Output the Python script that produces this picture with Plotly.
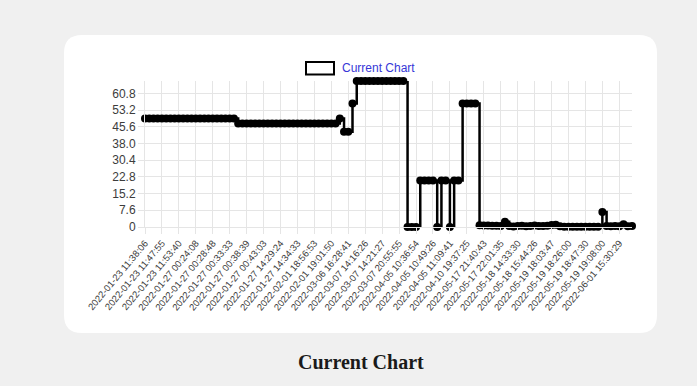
import plotly.graph_objects as go

# ---- data ----
series_name = "Current Chart"

tick_labels = [
    "2022-01-23 11:38:06", "2022-01-23 11:47:55", "2022-01-23 11:53:40",
    "2022-01-27 00:24:08", "2022-01-27 00:28:48", "2022-01-27 00:33:33",
    "2022-01-27 00:38:39", "2022-01-27 00:43:03", "2022-01-27 14:29:24",
    "2022-01-27 14:34:33", "2022-02-01 18:56:53", "2022-02-01 19:01:50",
    "2022-03-06 16:28:41", "2022-03-07 14:16:26", "2022-03-07 14:21:27",
    "2022-03-07 20:55:55", "2022-04-05 10:36:54", "2022-04-05 10:49:26",
    "2022-04-05 11:09:41", "2022-04-10 19:37:25", "2022-05-17 21:40:43",
    "2022-05-17 22:01:35", "2022-05-18 14:33:30", "2022-05-18 15:44:26",
    "2022-05-19 18:03:47", "2022-05-19 18:26:00", "2022-05-19 18:47:30",
    "2022-05-19 19:08:00", "2022-06-01 15:30:29",
]
label_every = 4  # one visible label per this many points

values_early = [49.4] * 22 + [47.1] * 24 + [49.4, 43.3, 43.3, 56.2]
values_peak = [66.4] * 12
values_mid = [0, 0, 0, 21.1, 21.1, 21.1, 21.1, 0, 21.1, 21.1, 0, 21.1, 21.1,
              56.2, 56.2, 56.2, 56.2]
values_late = [0.8, 0.7, 0.7, 0.6, 0.6, 0.5, 2.4, 0.4, 0.2, 0.5, 0.6, 0.3,
               0.5, 0.7, 0.4, 0.5, 0.6, 0.9, 1.0, 0.3, 0.1, 0.1, 0.1, 0.1,
               0.1, 0.1, 0.1, 0.1, 0.1, 6.8, 0.4, 0.3, 0.4, 0.3, 1.2, 0.3, 0.4]
values = values_early + values_peak + values_mid + values_late

y_ticks = [0, 7.6, 15.2, 22.8, 30.4, 38.0, 45.6, 53.2, 60.8]
y_tick_text = ["0", "7.6", "15.2", "22.8", "30.4", "38.0", "45.6", "53.2", "60.8"]
y_max = 66.4

# ---- layout geometry (figure pixel coords; page has 8px body margin) ----
W, H = 697, 386
OFF = 8
L, R, T, B = 137, 73, 73, 167
PW, PH = W - L - R, H - T - B
PAGE_BG = "#f0f0f0"


def xp(px):
    # px given in screenshot coordinates
    return (px - OFF - L) / PW


def yp(py):
    return (H - B - (py - OFF)) / PH


def rounded_rect(x0, y0, x1, y1, r):
    pts = [
        ("M", [(x0 + r, y0)]), ("L", [(x1 - r, y0)]), ("Q", [(x1, y0), (x1, y0 + r)]),
        ("L", [(x1, y1 - r)]), ("Q", [(x1, y1), (x1 - r, y1)]),
        ("L", [(x0 + r, y1)]), ("Q", [(x0, y1), (x0, y1 - r)]),
        ("L", [(x0, y0 + r)]), ("Q", [(x0, y0), (x0 + r, y0)]),
    ]
    s = ""
    for cmd, ps in pts:
        s += cmd + " " + " ".join(f"{xp(a):.5f},{yp(b):.5f}" for a, b in ps) + " "
    return s + "Z"


x_idx = list(range(len(values)))
tick_pos = list(range(0, len(values), label_every))[:len(tick_labels)]

fig = go.Figure()
fig.add_trace(go.Scatter(
    x=x_idx, y=values, mode="lines+markers", name=series_name,
    line=dict(color="black", width=2.5, shape="hv"),
    marker=dict(color="black", size=8),
    cliponaxis=False, showlegend=False,
))

grid = "#e5e5e5"
txt = "#3c3c3c"
fig.update_layout(
    width=W, height=H,
    margin=dict(l=L, r=R, t=T, b=B),
    paper_bgcolor=PAGE_BG,
    plot_bgcolor="white",
    font=dict(family="Liberation Sans, Arial, sans-serif", color=txt),
    xaxis=dict(
        range=[0, len(values) - 1], tickmode="array", tickvals=tick_pos,
        ticktext=tick_labels, tickangle=-50, tickfont=dict(size=9.5, color=txt),
        showgrid=True, gridcolor=grid, zeroline=False, showline=True,
        linecolor=grid, ticks="outside", ticklen=6, tickcolor=grid,
    ),
    yaxis=dict(
        range=[0, y_max], tickmode="array", tickvals=y_ticks, ticktext=y_tick_text,
        tickfont=dict(size=12, color=txt), showgrid=True, gridcolor=grid,
        zeroline=False, showline=True, linecolor=grid, ticks="outside",
        ticklen=6, tickcolor=grid,
    ),
    shapes=[
        dict(type="path", xref="paper", yref="paper", layer="below",
             path=rounded_rect(64, 35, 657, 333, 18),
             fillcolor="white", line=dict(width=0)),
        dict(type="rect", xref="paper", yref="paper",
             x0=xp(306), x1=xp(334), y0=yp(74.5), y1=yp(62),
             fillcolor="white", line=dict(color="black", width=2)),
    ],
    annotations=[
        dict(xref="paper", yref="paper", x=xp(340), y=yp(68), xanchor="left",
             yanchor="middle", showarrow=False, text=series_name,
             font=dict(size=12, color="rgb(55,55,215)",
                       family="Liberation Sans, Arial, sans-serif")),
        dict(xref="paper", yref="paper", x=xp(361), y=yp(362), xanchor="center",
             yanchor="middle", showarrow=False, text="<b>Current Chart</b>",
             font=dict(size=20, color="#1a1a1a",
                       family="Liberation Serif, Times New Roman, serif")),
    ],
)

fig.write_html(
    "out.html",
    post_script="document.body.style.background='" + PAGE_BG + "';",
)
